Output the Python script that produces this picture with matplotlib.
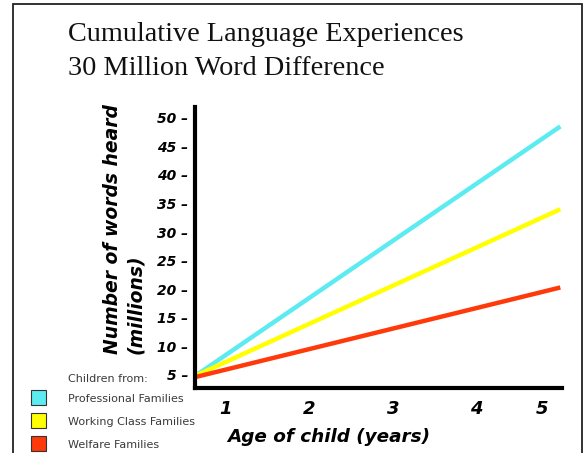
import matplotlib
matplotlib.use("Agg")
import matplotlib.pyplot as plt
from matplotlib.patches import Rectangle
import matplotlib.transforms as mtransforms

# Data
ages = [0.63, 5.0]
professional = [4.8, 48.5]
working_class = [4.8, 34.0]
welfare = [4.6, 20.3]
series_names = ["Professional Families", "Working Class Families", "Welfare Families"]
series_colors = ["#5DEBF2", "#FFFF00", "#FF3A0A"]
y_ticks = [5, 10, 15, 20, 25, 30, 35, 40, 45, 50]
x_ticks = [1, 2, 3, 4, 5]

W, H = 585, 453
fig = plt.figure(figsize=(W / 100, H / 100), dpi=100)

sans = ["DejaVu Sans"]

# border
fig.add_artist(Rectangle((13 / W, -0.05), (582 - 13) / W, 1 - 4 / H + 0.05,
                         transform=fig.transFigure, fill=False,
                         edgecolor="#222222", linewidth=1.3))

# title
fig.text(68 / W, 1 - 41 / H, "Cumulative Language Experiences",
         family="Liberation Serif", fontsize=20.3, color="#111111", va="baseline")
fig.text(68 / W, 1 - 75 / H, "30 Million Word Difference",
         family="Liberation Serif", fontsize=20.3, color="#111111", va="baseline")

ax = fig.add_axes([195 / W, 1 - 388 / H, (562 - 195) / W, (388 - 107) / H])
for vals, col in zip([professional, working_class, welfare], series_colors):
    ax.plot(ages, vals, color=col, linewidth=3.2, solid_capstyle="butt")

ax.set_xlim(0.63, 5.02)
ax.set_ylim(2.7, 51.9)
for s in ["top", "right"]:
    ax.spines[s].set_visible(False)
for s in ["left", "bottom"]:
    ax.spines[s].set_linewidth(3)
    ax.spines[s].set_color("black")

ax.set_yticks(y_ticks)
ax.set_yticklabels([f"{v} \u2013" for v in y_ticks], family=sans,
                   fontweight="bold", fontstyle="italic", fontsize=10)
ax.tick_params(axis="y", length=0, pad=5)
ax.set_xticks(x_ticks)
ax.set_xticklabels([str(v) for v in x_ticks], family=sans,
                   fontweight="bold", fontstyle="italic", fontsize=13)
ax.tick_params(axis="x", length=0, pad=9)
last = ax.get_xticklabels()[-1]
last.set_transform(last.get_transform() + mtransforms.ScaledTranslation(-18 / 100, 0, fig.dpi_scale_trans))

# axis labels
fig.text(113 / W, 1 - 354 / H, "Number of words heard", rotation=90,
         family=sans, fontweight="bold", fontstyle="italic", fontsize=13.5,
         ha="center", va="bottom")
fig.text(136 / W, 1 - 354 / H, "(millions)", rotation=90,
         family=sans, fontweight="bold", fontstyle="italic", fontsize=13.5,
         ha="center", va="bottom")
fig.text(329 / W, 1 - 437 / H, "Age of child (years)", family=sans,
         fontweight="bold", fontstyle="italic", fontsize=13.2,
         ha="center", va="center")

# legend
fig.text(68 / W, 1 - 379 / H, "Children from:", family=sans, fontsize=8,
         color="#3a3a3a", va="center")
legend_y = [399, 422, 445]
for name, col, yy in zip(series_names, series_colors, legend_y):
    fig.add_artist(Rectangle((31 / W, 1 - (yy + 6) / H), 15 / W, 15 / H,
                             transform=fig.transFigure, facecolor=col,
                             edgecolor="#333333", linewidth=0.8))
    fig.text(68 / W, 1 - yy / H, name, family=sans, fontsize=8,
             color="#3a3a3a", va="center")

fig.savefig("out.png", dpi=100)
